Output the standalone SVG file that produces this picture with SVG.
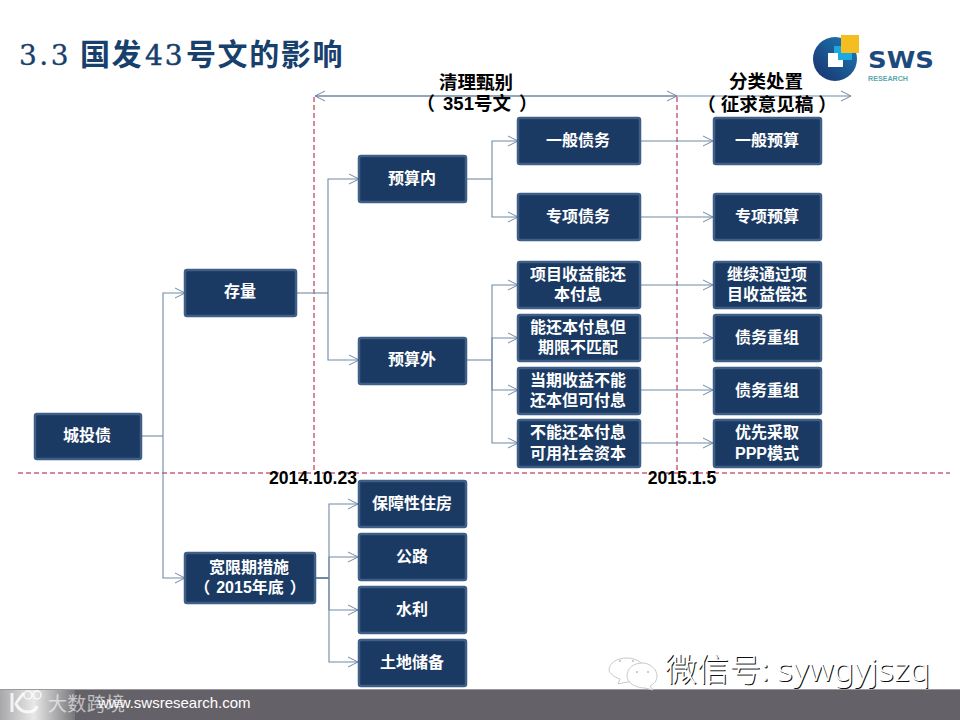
<svg xmlns="http://www.w3.org/2000/svg" width="960" height="720" viewBox="0 0 960 720">
<style>
.n rect{fill:#1b3a63;stroke:#3f5f86;stroke-width:2.5}
.n text{font:bold 16px "Liberation Sans","Noto Sans CJK SC",sans-serif;fill:#fff;text-anchor:middle}
.c path{fill:none;stroke:#7189a5;stroke-width:1.1;marker-end:url(#a)}
.c path.p{marker-end:none}
.d{fill:none;stroke:#b01030;stroke-width:1;stroke-dasharray:5 3}
.h{font:bold 18.5px "Liberation Sans","Noto Sans CJK SC",sans-serif;fill:#000;text-anchor:middle}
.t{font:bold 17.6px "Liberation Sans",sans-serif;fill:#000;text-anchor:middle}
.ti{font-family:"DejaVu Serif","Noto Sans CJK SC",serif;font-size:28px;fill:#17406d}
.cj{font-family:"Noto Sans CJK SC",sans-serif;font-size:30px;font-weight:bold;letter-spacing:1.6px}
.we{font-family:"Noto Sans CJK SC",sans-serif;font-size:32px;font-weight:300}
.la{font-family:"Noto Sans",sans-serif;font-size:32px;font-weight:300}
.bu{fill:#fff;stroke:#c9c9c9;stroke-width:1}
</style>
<defs>
<marker id="a" markerWidth="12" markerHeight="12" refX="10" refY="6" orient="auto" markerUnits="userSpaceOnUse"><path d="M0 1L10 6L0 11" fill="none" stroke="#7189a5" stroke-width="1"/></marker>
<linearGradient id="g" x1="0" y1="0" x2="1" y2="0"><stop offset="0" stop-color="#a8a8aa"/><stop offset=".45" stop-color="#e8e8e8"/><stop offset="1" stop-color="#77777a"/></linearGradient>
<linearGradient id="l" x1="1" y1="0" x2="0" y2="1"><stop offset="0" stop-color="#1a7fb8"/><stop offset="1" stop-color="#1b2f6a"/></linearGradient>
</defs>
<rect width="960" height="720" fill="#fff"/>
<text class="ti" y="65"><tspan x="19" letter-spacing="2.5" stroke="#17406d" stroke-width=".3">3.3</tspan><tspan class="cj" x="80">国发</tspan><tspan x="145" letter-spacing="2" stroke="#17406d" stroke-width=".5">43</tspan><tspan class="cj" x="186">号文的影响</tspan></text>
<g id="logo">
<circle cx="835" cy="59" r="22" fill="url(#l)"/>
<rect x="834" y="46" width="18" height="14" fill="#1ba9e0"/>
<path d="M828 53H838V60H843V67H828Z" fill="#fff"/>
<rect x="841" y="35" width="18" height="18" fill="#f5bd1f"/>
<text x="868" y="68" font-family="'DejaVu Sans',sans-serif" font-weight="bold" font-size="23" fill="#1d4a7c" textLength="66" lengthAdjust="spacingAndGlyphs">SWS</text>
<text x="868" y="80.5" font-family="'Liberation Sans',sans-serif" font-weight="bold" font-size="8" fill="#5aa7ad" textLength="40" lengthAdjust="spacingAndGlyphs">RESEARCH</text>
</g>
<g id="guides">
<path class="d" d="M314 97V473M677 97V473M18 473H950"/>
</g>
<g id="connectors" class="c">
<path d="M677 96H315"/>
<path d="M315 96H677"/>
<path d="M677 96H851"/>
<path class="p" d="M141 436H163"/>
<path d="M163 436V293H185"/>
<path d="M163 436V578H185"/>
<path class="p" d="M296 293H328"/>
<path d="M328 293V179H359"/>
<path d="M328 293V360H359"/>
<path class="p" d="M466 179H492"/>
<path d="M492 179V141H518"/>
<path d="M492 179V217H518"/>
<path class="p" d="M466 360H492"/>
<path d="M492 360V285H518"/>
<path d="M492 360V338H518"/>
<path d="M492 360V390H518"/>
<path d="M492 360V443H518"/>
<path d="M640 141H713"/>
<path d="M640 217H713"/>
<path d="M640 285H713"/>
<path d="M640 338H713"/>
<path d="M640 390H713"/>
<path d="M640 443H713"/>
<path class="p" d="M316 578H329" style="stroke-width:2"/>
<path d="M329 578V504H358"/>
<path d="M329 578V557H358"/>
<path d="M329 578V610H358"/>
<path d="M329 578V662H358"/>
</g>
<text class="h" x="476" y="89">清理甄别</text>
<text class="h" x="477" y="110"><tspan>（</tspan><tspan dx="8">351号文</tspan><tspan dx="8">）</tspan></text>
<text class="h" x="766" y="88">分类处置</text>
<text class="h" x="767" y="111"><tspan>（</tspan><tspan dx="5">征求意见稿</tspan><tspan dx="5">）</tspan></text>
<text class="t" x="313" y="484">2014.10.23</text>
<text class="t" x="682" y="484">2015.1.5</text>
<g id="n1" class="n"><rect x="35" y="414" width="106" height="45" rx="2"/><text x="87" y="441">城投债</text></g>
<g id="n2" class="n"><rect x="185" y="270" width="111" height="46" rx="2"/><text x="240" y="297">存量</text></g>
<g id="n3" class="n"><rect x="185" y="553" width="130" height="50" rx="2"/><text x="249" y="573">宽限期措施</text><text x="250" y="593"><tspan>（</tspan><tspan dx="6">2015年底</tspan><tspan dx="6">）</tspan></text></g>
<g id="n4" class="n"><rect x="359" y="156" width="107" height="46" rx="2"/><text x="412" y="184">预算内</text></g>
<g id="n5" class="n"><rect x="359" y="338" width="107" height="46" rx="2"/><text x="412" y="365">预算外</text></g>
<g id="n6" class="n"><rect x="518" y="118" width="122" height="46" rx="2"/><text x="578" y="146">一般债务</text></g>
<g id="n7" class="n"><rect x="518" y="194" width="122" height="46" rx="2"/><text x="578" y="222">专项债务</text></g>
<g id="n8" class="n"><rect x="518" y="262" width="122" height="46" rx="2"/><text x="578" y="280">项目收益能还</text><text x="578" y="300">本付息</text></g>
<g id="n9" class="n"><rect x="518" y="315" width="122" height="46" rx="2"/><text x="578" y="333">能还本付息但</text><text x="578" y="353">期限不匹配</text></g>
<g id="n10" class="n"><rect x="518" y="368" width="122" height="46" rx="2"/><text x="578" y="386">当期收益不能</text><text x="578" y="406">还本但可付息</text></g>
<g id="n11" class="n"><rect x="518" y="420" width="122" height="47" rx="2"/><text x="578" y="438">不能还本付息</text><text x="578" y="459">可用社会资本</text></g>
<g id="n12" class="n"><rect x="714" y="118" width="107" height="46" rx="2"/><text x="767" y="146">一般预算</text></g>
<g id="n13" class="n"><rect x="714" y="194" width="107" height="46" rx="2"/><text x="767" y="222">专项预算</text></g>
<g id="n14" class="n"><rect x="714" y="262" width="107" height="46" rx="2"/><text x="767" y="280">继续通过项</text><text x="767" y="300">目收益偿还</text></g>
<g id="n15" class="n"><rect x="714" y="315" width="107" height="46" rx="2"/><text x="767" y="343">债务重组</text></g>
<g id="n16" class="n"><rect x="714" y="368" width="107" height="46" rx="2"/><text x="767" y="396">债务重组</text></g>
<g id="n17" class="n"><rect x="714" y="420" width="107" height="47" rx="2"/><text x="767" y="438">优先采取</text><text x="767" y="459">PPP模式</text></g>
<g id="n18" class="n"><rect x="359" y="481" width="107" height="46" rx="2"/><text x="412" y="509">保障性住房</text></g>
<g id="n19" class="n"><rect x="359" y="534" width="107" height="46" rx="2"/><text x="412" y="562">公路</text></g>
<g id="n20" class="n"><rect x="359" y="587" width="107" height="46" rx="2"/><text x="412" y="615">水利</text></g>
<g id="n21" class="n"><rect x="359" y="640" width="107" height="46" rx="2"/><text x="412" y="668">土地储备</text></g>
<g id="footer">
<rect y="689" width="960" height="31" fill="#646268"/>
<rect y="689" width="960" height="1" fill="#9a9a9c"/>
<rect y="690" width="75" height="30" fill="url(#g)"/>
<text x="98" y="708" font-family="'Liberation Sans',sans-serif" font-size="15" fill="#fff">www.swsresearch.com</text>
<g fill="none" stroke="#fff" stroke-opacity=".8"><path d="M12 693V712M24 693C18 700 16 703 16 704C18 708 22 712 28 712C33 712 36 709 37 706" stroke-width="3"/><circle cx="28" cy="695" r="4" stroke-width="1.5"/><circle cx="37" cy="695" r="4" stroke-width="1.5"/></g>
<text x="48" y="711" font-family="'Noto Sans CJK SC',sans-serif" font-size="19" fill="#fff" fill-opacity=".6" textLength="77">大数跨境</text>
</g>
<g id="wechat">
<path class="bu" d="M627 658c10 0 18 6 18 13s-8 11-18 11l-9 2 2-5c-6-2-11-6-11-9 0-7 8-12 18-12Z"/>
<path class="bu" d="M642 663c8 0 15 6 15 13 0 5-3 8-7 10l3 4-8-2c-9 0-18-5-18-12 0-8 7-13 15-13Z"/>
<g fill="#bbb"><circle cx="620" cy="661" r="1"/><circle cx="633" cy="661" r="1"/><circle cx="637" cy="672" r="1"/><circle cx="648" cy="672" r="1"/></g>
<text y="682" fill="#111"><tspan class="we" x="666">微信号:</tspan><tspan class="la" x="778" textLength="153" lengthAdjust="spacingAndGlyphs">sywgyjszq</tspan></text>
<text y="681" fill="#fff"><tspan class="we" x="665">微信号:</tspan><tspan class="la" x="777" textLength="153" lengthAdjust="spacingAndGlyphs">sywgyjszq</tspan></text>
</g>
</svg>
